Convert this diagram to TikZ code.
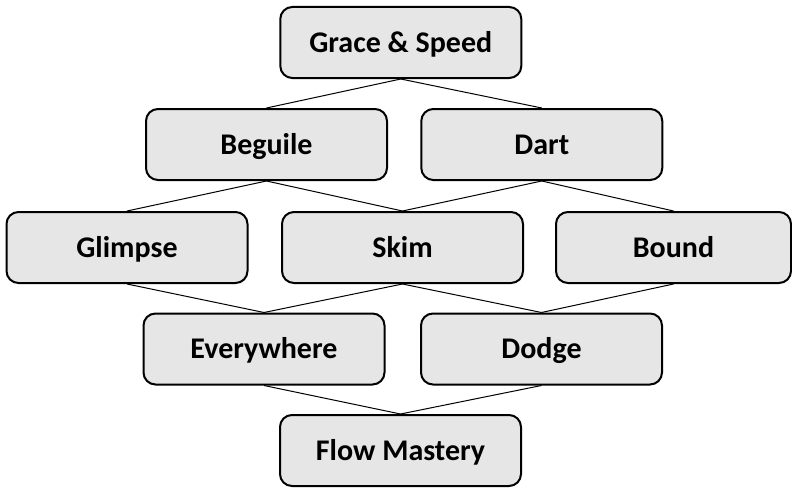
\documentclass[tikz,border=0pt]{standalone}
\usepackage{fontspec}
\setmainfont{Carlito}
\begin{document}
\begin{tikzpicture}[x=1pt,y=-1pt,
  skill/.style={draw=black, line width=2pt, fill=boxgray, rounded corners=12pt,
    minimum width=241pt, minimum height=71pt, inner sep=0pt,
    text height=19.5pt, text depth=0pt,
    font=\fontsize{30}{36}\selectfont\bfseries},
  link/.style={draw=black, line width=1pt}]
\definecolor{boxgray}{HTML}{E6E6E6}
\useasboundingbox (0,0) rectangle (792,487);
% tiers of the skill tree
\node[skill] (grace) at (400.8,42.5) {Grace \& Speed};
\node[skill] (beguile) at (266.5,144.5) {Beguile};
\node[skill] (dart) at (541.8,144.5) {Dart};
\node[skill] (glimpse) at (127,247.5) {Glimpse};
\node[skill] (skim) at (402.5,247.5) {Skim};
\node[skill, minimum width=235pt] (bound) at (673.5,247.5) {Bound};
\node[skill] (every) at (264,349) {Everywhere};
\node[skill] (dodge) at (541.5,349) {Dodge};
\node[skill] (flow) at (400.5,450.5) {Flow Mastery};
% connectors from each box to the boxes of the next tier
\draw[link] (grace.south) -- (beguile.north);
\draw[link] (grace.south) -- (dart.north);
\draw[link] (beguile.south) -- (glimpse.north);
\draw[link] (beguile.south) -- (skim.north);
\draw[link] (dart.south) -- (skim.north);
\draw[link] (dart.south) -- (bound.north);
\draw[link] (glimpse.south) -- (every.north);
\draw[link] (skim.south) -- (every.north);
\draw[link] (skim.south) -- (dodge.north);
\draw[link] (bound.south) -- (dodge.north);
\draw[link] (every.south) -- (flow.north);
\draw[link] (dodge.south) -- (flow.north);
\end{tikzpicture}
\end{document}
